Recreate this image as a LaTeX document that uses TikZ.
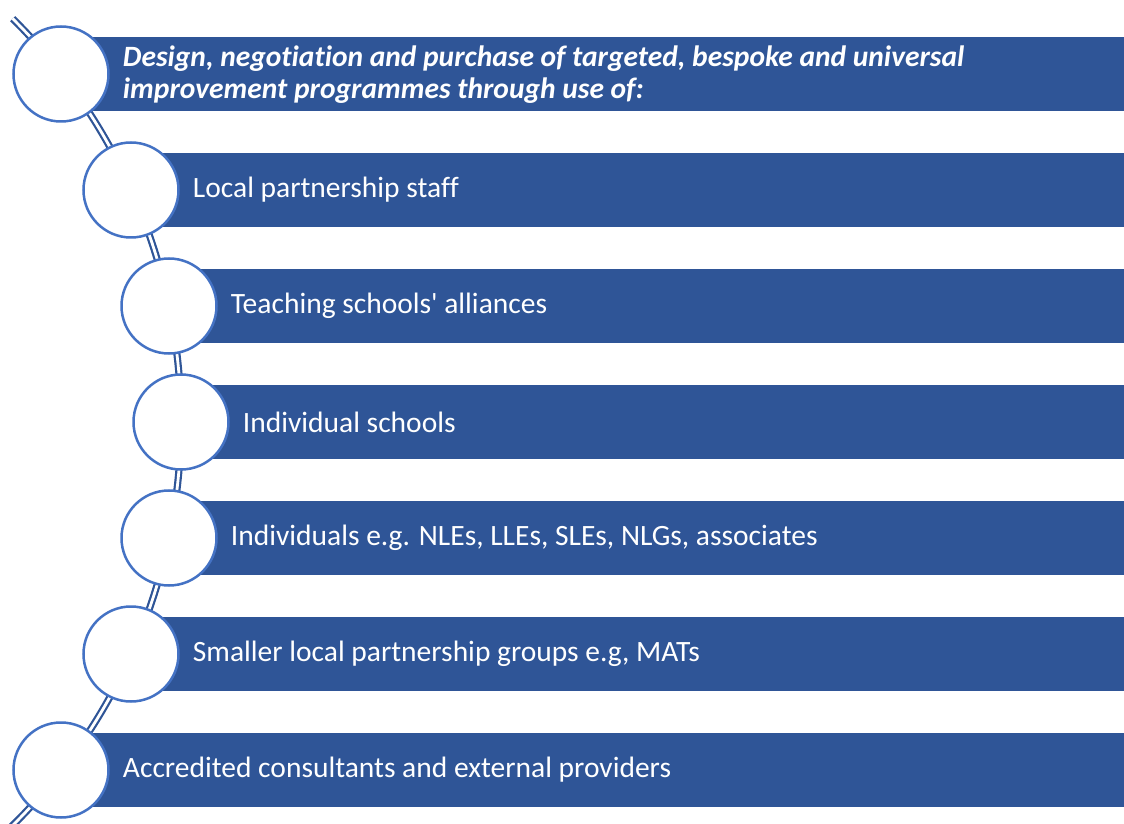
\documentclass[tikz,border=0pt]{standalone}
\usepackage{fontspec}
\setmainfont{Carlito}[Ligatures=NoCommon]
\usetikzlibrary{positioning}
\definecolor{barblue}{HTML}{2F5597}
\definecolor{ringblue}{HTML}{4472C4}

\begin{document}
\begin{tikzpicture}[x=1pt,y=1pt,
	disc/.style={circle,draw=ringblue,line width=2.5pt,fill=white,minimum size=95pt,inner sep=0pt},
	itemtext/.style={anchor=west,text=white,inner sep=0pt,font=\fontsize{29.5}{32}\selectfont}]
	\useasboundingbox (0,0) rectangle (1124,823);
	% the curved spine behind the discs
	\begin{scope}
		\clip (0,0) rectangle (1124,823);
		\draw[barblue,line width=2.2pt,double=white,double distance=2.8pt] (-386.5,401) ++(-46:567.5) arc (-46:45.3:567.5);
	\end{scope}
	% first item
	\fill[barblue] (61,712) rectangle (1124,786);
	\node[disc] (disc1) at (61,749) {};
	\node[itemtext,align=left,font=\fontsize{29.5}{32}\selectfont\bfseries\itshape,right=13pt of disc1,yshift=-1pt] (txt1)
		{Design, negotiation and purchase of targeted, bespoke and universal\\improvement programmes through use of:};
	% the list
	\foreach \i/\cx/\txt in {2/131/{Local partnership staff},
		3/169/{Teaching schools\textquotesingle{} alliances},
		4/181/{Individual schools},
		5/169/{Individuals e.g. NLEs, LLEs, SLEs, NLGs, associates},
		6/131/{Smaller local partnership groups e.g, MATs},
		7/61/{Accredited consultants and external providers}}{
		\pgfmathsetmacro\cy{749-116*(\i-1)}
		\fill[barblue] (\cx,\cy-37) rectangle (1124,\cy+37);
		\node[disc] (disc\i) at (\cx,\cy) {};
		\node[itemtext,right=13pt of disc\i] (txt\i) {\txt};}
\end{tikzpicture}
\end{document}
